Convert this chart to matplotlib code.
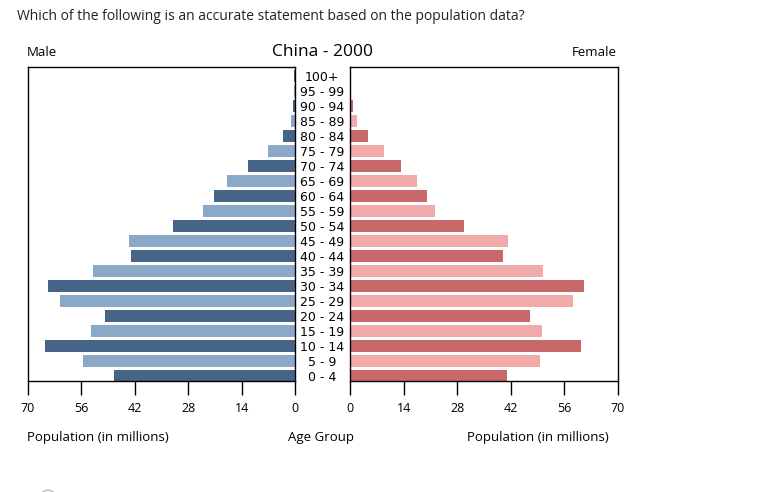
import numpy as np
import matplotlib
matplotlib.use('Agg')
import matplotlib.pyplot as plt
from matplotlib.patches import Circle

# age groups, bottom to top
ages = ['0 - 4', '5 - 9', '10 - 14', '15 - 19', '20 - 24', '25 - 29', '30 - 34',
        '35 - 39', '40 - 44', '45 - 49', '50 - 54', '55 - 59', '60 - 64', '65 - 69',
        '70 - 74', '75 - 79', '80 - 84', '85 - 89', '90 - 94', '95 - 99', '100+']

# population in millions
male = [47.5, 55.6, 65.6, 53.5, 49.9, 61.7, 64.8, 53.0, 43.0, 43.6, 32.0,
        24.1, 21.2, 17.8, 12.3, 7.1, 3.1, 1.0, 0.4, 0.3, 0.3]
female = [41.0, 49.6, 60.3, 50.1, 46.9, 58.2, 61.1, 50.4, 39.9, 41.2, 29.7,
          22.3, 20.0, 17.4, 13.2, 9.0, 4.8, 1.9, 0.7, 0.3, 0.3]

ticks = [0, 14, 28, 42, 56, 70]

male_colors = ['#466487', '#8aa8c8']
female_colors = ['#c8686b', '#f0aaaa']

page_font = ['Open Sans', 'DejaVu Sans']

fig = plt.figure(figsize=(7.77, 4.92), dpi=100)

y = np.arange(len(ages))
ax_l = fig.add_axes([28 / 777, 1 - 381 / 492, 267 / 777, 314 / 492])
ax_r = fig.add_axes([350 / 777, 1 - 381 / 492, 268 / 777, 314 / 492])

ax_l.barh(y, male, height=0.84, color=[male_colors[i % 2] for i in y])
ax_r.barh(y, female, height=0.84, color=[female_colors[i % 2] for i in y])

for ax in (ax_l, ax_r):
    ax.set_ylim(-0.33, 20.6)
    ax.set_yticks([])
    ax.set_xticks(ticks)
    ax.set_xticklabels([str(t) for t in ticks], fontsize=9, family=page_font)
    ax.tick_params(axis='x', direction='out', length=10, width=1, pad=5)
    for s in ax.spines.values():
        s.set_linewidth(1)
ax_l.set_xlim(70, 0)
ax_r.set_xlim(0, 70)

# age labels between the two halves
for i, a in enumerate(ages):
    fig.text(322 / 777, (ax_l.transData.transform((0, i))[1] - 1) / fig.bbox.height,
             a, ha='center', va='center', fontsize=9, family='DejaVu Sans')

fig.text(17 / 777, 1 - 17 / 492,
         'Which of the following is an accurate statement based on the population data?',
         ha='left', va='center', fontsize=10, family=page_font, color='#222222')
fig.text(27 / 777, 1 - 52.5 / 492, 'Male', ha='left', va='center', fontsize=9.5, family=page_font)
fig.text(617 / 777, 1 - 52.5 / 492, 'Female', ha='right', va='center', fontsize=9.5, family=page_font)
fig.text(323 / 777, 1 - 51.5 / 492, 'China - 2000', ha='center', va='center', fontsize=12.5, family=page_font)

fig.text(27 / 777, 1 - 437.5 / 492, 'Population (in millions)', ha='left', va='center', fontsize=9.5, family=page_font)
fig.text(321 / 777, 1 - 437.5 / 492, 'Age Group', ha='center', va='center', fontsize=9.5, family=page_font)
fig.text(609 / 777, 1 - 437.5 / 492, 'Population (in millions)', ha='right', va='center', fontsize=9.5, family=page_font)

# edge of the answer radio button
fig.patches.append(Circle((48 / 777, 1 - 494 / 492), 6 / 777, transform=fig.transFigure,
                          fill=False, edgecolor='#bbbbbb', linewidth=1))

plt.savefig('out.png', dpi=100)
